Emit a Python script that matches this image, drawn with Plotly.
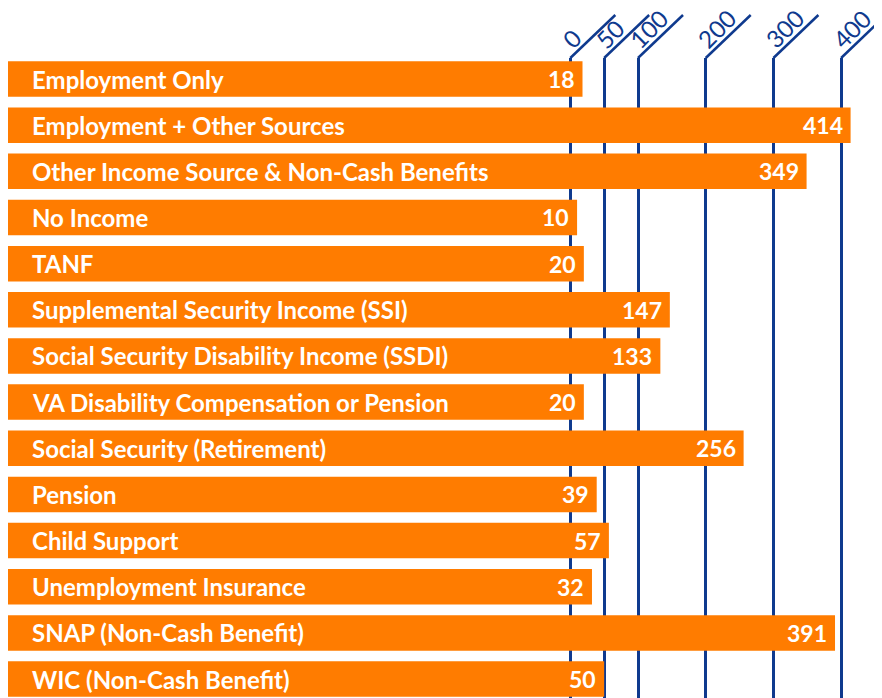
import plotly.graph_objects as go

categories = [
    "Employment Only",
    "Employment + Other Sources",
    "Other Income Source & Non-Cash Benefits",
    "No Income",
    "TANF",
    "Supplemental Security Income (SSI)",
    "Social Security Disability Income (SSDI)",
    "VA Disability Compensation or Pension",
    "Social Security (Retirement)",
    "Pension",
    "Child Support",
    "Unemployment Insurance",
    "SNAP (Non-Cash Benefit)",
    "WIC (Non-Cash Benefit)",
]
counts = [18, 414, 349, 10, 20, 147, 133, 20, 256, 39, 57, 32, 391, 50]
tick_values = [0, 50, 100, 200, 300, 400]
tick_labels = ["0", "50", "100", "200", "300", "400"]

X_MIN, X_MAX = -830.6, 460.4
ORANGE = "#FF7C00"
NAVY = "#0F3A8E"
FONT = "Lato"

fig = go.Figure(
    go.Bar(
        y=categories,
        x=[v - X_MIN for v in counts],
        base=X_MIN,
        orientation="h",
        marker=dict(color=ORANGE, line_width=0),
        hoverinfo="skip",
    )
)

annotations = []
for cat, v in zip(categories, counts):
    annotations.append(dict(
        x=X_MIN, y=cat, xref="x", yref="y", text=cat, showarrow=False,
        xanchor="left", yanchor="middle", xshift=22,
        font=dict(family=FONT, size=24, color="white", weight="bold"),
    ))
    annotations.append(dict(
        x=v, y=cat, xref="x", yref="y", text=str(v), showarrow=False,
        xanchor="right", yanchor="middle", xshift=-6,
        font=dict(family=FONT, size=23, color="white", weight="bold"),
    ))

shapes = []
for t, lab in zip(tick_values, tick_labels):
    shapes.append(dict(
        type="line", xref="x", xsizemode="pixel", xanchor=t, x0=0, x1=45,
        yref="paper", ysizemode="pixel", yanchor=1, y0=0, y1=43,
        line=dict(color=NAVY, width=2.5),
    ))
    annotations.append(dict(
        x=t, y=1, xref="x", yref="paper", text=lab, showarrow=False,
        textangle=-45, xanchor="left", yanchor="bottom", xshift=-14, yshift=4,
        borderpad=0, borderwidth=0,
        font=dict(family=FONT, size=24, color=NAVY),
    ))

fig.update_layout(
    width=874, height=690,
    margin=dict(l=0, r=0, t=50, b=0),
    paper_bgcolor="white", plot_bgcolor="white",
    showlegend=False,
    bargap=0.231,
    xaxis=dict(
        range=[X_MIN, X_MAX], tickvals=tick_values, showticklabels=False,
        showgrid=True, gridcolor=NAVY, gridwidth=2.5, zeroline=False,
        showline=False, ticks="",
    ),
    yaxis=dict(
        type="category", categoryorder="array", categoryarray=categories,
        range=[13.41, -0.455], showticklabels=False, showgrid=False,
        zeroline=False, showline=False, ticks="",
    ),
    annotations=annotations,
    shapes=shapes,
)

fig.write_html("out.html")
